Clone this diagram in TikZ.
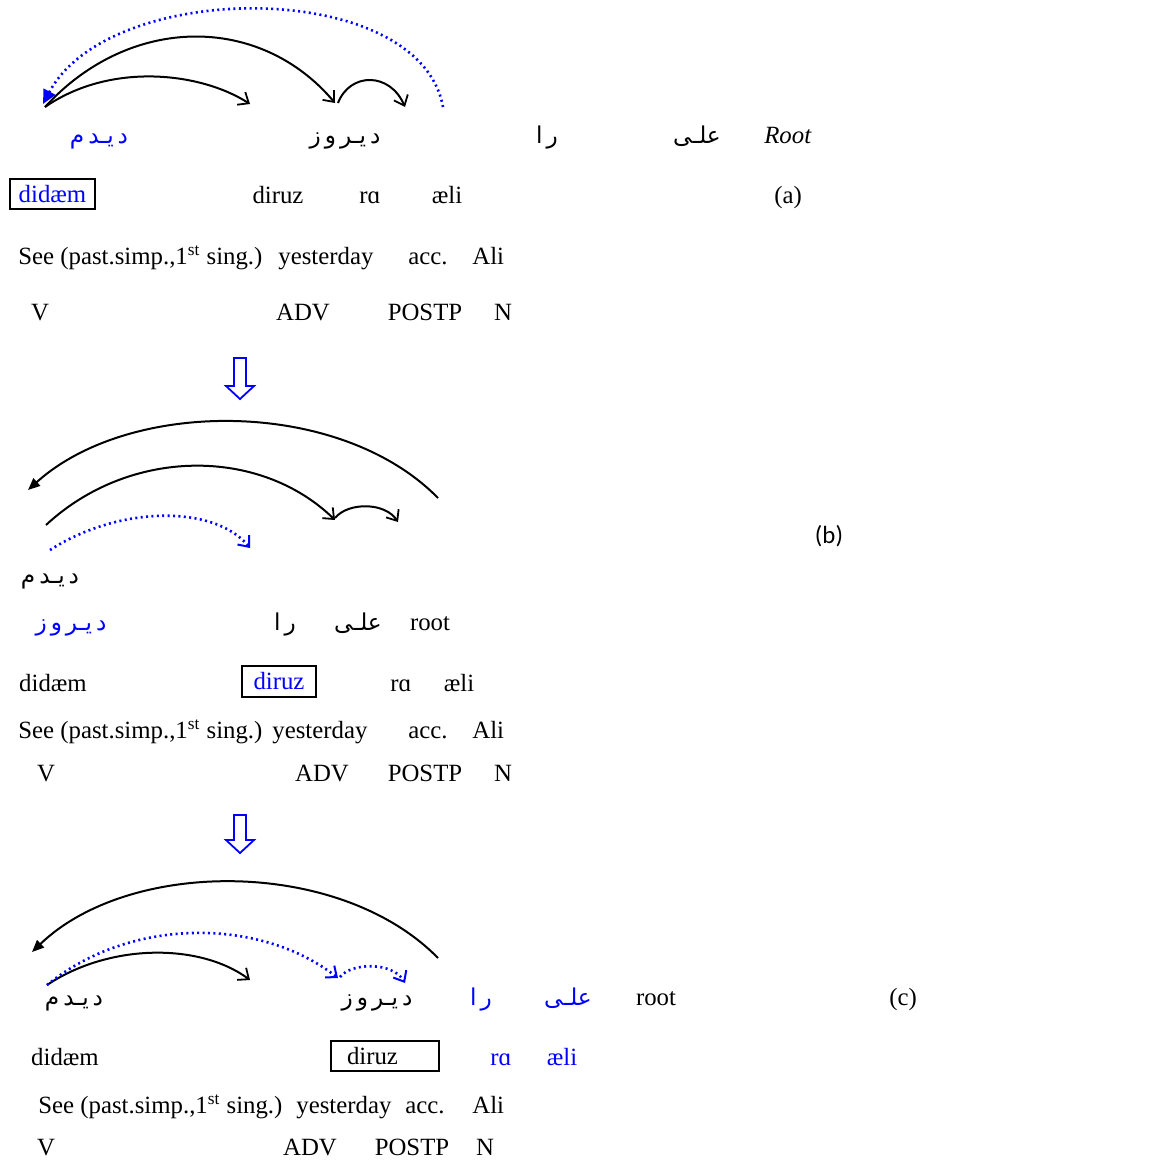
\documentclass[tikz,border=0pt]{standalone}
\usepackage{fontspec}
\setmainfont{Liberation Serif}
\newfontfamily\arabicfont[Script=Arabic]{DejaVu Sans}
\newfontfamily\calfont{Carlito}
\TeXXeTstate=1
\usetikzlibrary{arrows.meta}
\newcommand\arabw[1]{{\arabicfont\beginR #1\endR}}
\newcommand\gp{\kern2pt}
\tikzset{
  w/.style={anchor=base, font=\fontsize{12.4}{14}\selectfont, inner sep=0pt},
  wl/.style={w, anchor=base west},
  aw/.style={anchor=base, font=\fontsize{11.6}{13}\selectfont, inner sep=0pt},
  boxed/.style={draw, line width=0.7pt, inner sep=0pt},
  arc/.style={line width=1pt, -{Straight Barb[length=4.5pt,width=7.5pt,line width=0.9pt]}},
  backarc/.style={line width=1pt, -{Triangle[length=6pt,width=5pt]}},
  dotarc/.style={blue, line width=1.3pt, dash pattern=on 1pt off 1.7pt, -{Straight Barb[length=4.5pt,width=7.5pt,line width=1pt]}},
  dotback/.style={blue, line width=1.3pt, dash pattern=on 1pt off 1.7pt, -{Triangle[length=7pt,width=6.5pt]}},
  downarrow/.style={draw=blue, line width=0.9pt, fill=white, line join=miter},
}
\begin{document}
\begin{tikzpicture}[x=0.5pt,y=-0.5pt]
\useasboundingbox (0,0) rectangle (1171,1163);
% ================= (a) =================
\node[aw, text=blue] (a-didam-ar) at (99,143) {\arabw{د\gp يـد\gp م}};
\node[aw] (a-diruz-ar) at (345,143) {\arabw{د\gp يـر\gp و\gp ز}};
\node[aw] (a-ra-ar) at (547,143) {\arabw{ر\gp ا}};
\node[aw] (a-ali-ar) at (697,143) {\arabw{علـى}};
\node[w] (a-root) at (788,143) {\textit{Root}};
\node[w, boxed, text=blue, minimum width=42.5pt, minimum height=15pt, anchor=center] (a-didam) at (52.5,194) {didæm};
\node[w] (a-diruz) at (278,203) {diruz};
\node[w] (a-ra) at (370,203) {rɑ};
\node[w] (a-ali) at (447,203) {æli};
\node[w] (a-label) at (788,203) {(a)};
\node[wl] (a-see) at (18,264) {See (past.simp.,1\textsuperscript{st} sing.)};
\node[wl] (a-yest) at (278,264) {yesterday};
\node[wl] (a-acc) at (408,264) {acc.};
\node[wl] (a-aliG) at (472,264) {Ali};
\node[w] (a-V) at (40,320) {V};
\node[w] (a-ADV) at (303,320) {ADV};
\node[w] (a-POSTP) at (425,320) {POSTP};
\node[w] (a-N) at (503,320) {N};
\coordinate (a0) at (45,107);
\coordinate (a1) at (250,104);
\coordinate (a2) at (335,103);
\coordinate (a2b) at (338,103);
\coordinate (a3) at (405,107);
\coordinate (a4) at (443,107);
\coordinate (a5) at (43,104);
\draw[arc] (a0) .. controls (110,62) and (200,72) .. (a1);
\draw[arc] (a0) .. controls (130,14) and (260,14) .. (a2);
\draw[arc] (a2b) .. controls (350,72) and (390,72) .. (a3);
\draw[dotback] (a4) .. controls (420,-22) and (110,-22) .. (a5);
% down arrow 1
\draw[downarrow] (234,358) -- (246,358) -- (246,386) -- (254,386) -- (240,399) -- (226,386) -- (234,386) -- cycle;
% ================= (b) =================
\coordinate (b0) at (438,498);
\coordinate (b1) at (28,490);
\coordinate (b2) at (46,525);
\coordinate (b3) at (335,520);
\coordinate (b3b) at (335,518);
\coordinate (b4) at (398,522);
\coordinate (b5) at (50,550);
\coordinate (b6) at (250,548);
\draw[backarc] (b0) .. controls (340,398) and (130,398) .. (b1);
\draw[arc] (b2) .. controls (130,447) and (260,447) .. (b3);
\draw[arc] (b3b) .. controls (348,502) and (385,502) .. (b4);
\draw[dotarc] (b5) .. controls (120,505) and (215,505) .. (b6);
\node[font=\calfont\fontsize{12.4}{14}\selectfont, anchor=base, inner sep=0pt] (b-label) at (829,543) {(b)};
\node[aw] (b-didam-ar) at (50,583) {\arabw{د\gp يـد\gp م}};
\node[aw, text=blue] (b-diruz-ar) at (71,630) {\arabw{د\gp يـر\gp و\gp ز}};
\node[aw] (b-ra-ar) at (285,630) {\arabw{ر\gp ا}};
\node[aw] (b-ali-ar) at (358,630) {\arabw{علـى}};
\node[w] (b-root) at (430,630) {root};
\node[w] (b-didam) at (53,691) {didæm};
\node[w, boxed, text=blue, minimum width=37pt, minimum height=15.5pt, anchor=center] (b-diruz) at (279,681.5) {diruz};
\node[w] (b-ra) at (401,691) {rɑ};
\node[w] (b-ali) at (459,691) {æli};
\node[wl] (b-see) at (18,738) {See (past.simp.,1\textsuperscript{st} sing.)};
\node[wl] (b-yest) at (272,738) {yesterday};
\node[wl] (b-acc) at (408,738) {acc.};
\node[wl] (b-aliG) at (472,738) {Ali};
\node[w] (b-V) at (46,781) {V};
\node[w] (b-ADV) at (322,781) {ADV};
\node[w] (b-POSTP) at (425,781) {POSTP};
\node[w] (b-N) at (503,781) {N};
% down arrow 2
\draw[downarrow] (234,815) -- (246,815) -- (246,840) -- (254,840) -- (240,853) -- (226,840) -- (234,840) -- cycle;
% ================= (c) =================
\coordinate (c0) at (438,958);
\coordinate (c1) at (32,952);
\coordinate (c2) at (47,985);
\coordinate (c3) at (338,978);
\coordinate (c4) at (250,980);
\coordinate (c5) at (340,977);
\coordinate (c6) at (405,983);
\draw[backarc] (c0) .. controls (340,858) and (130,858) .. (c1);
\draw[arc] (c2) .. controls (110,943) and (200,943) .. (c4);
\draw[dotarc] (c2) .. controls (130,917) and (260,917) .. (c3);
\draw[dotarc] (c5) .. controls (352,962) and (393,962) .. (c6);
\node[aw] (c-didam-ar) at (74,1005) {\arabw{د\gp يـد\gp م}};
\node[aw] (c-diruz-ar) at (377,1005) {\arabw{د\gp يـر\gp و\gp ز}};
\node[aw, text=blue] (c-ra-ar) at (481,1005) {\arabw{ر\gp ا}};
\node[aw, text=blue] (c-ali-ar) at (568,1005) {\arabw{علـى}};
\node[w] (c-root) at (656,1005) {root};
\node[w] (c-label) at (903,1005) {(c)};
\node[w] (c-didam) at (65,1065) {didæm};
\node[w, boxed, text width=38pt, align=left, inner xsep=8pt, minimum height=15pt, anchor=center] (c-diruz) at (385,1056) {diruz};
\node[w, text=blue] (c-ra) at (501,1065) {rɑ};
\node[w, text=blue] (c-ali) at (562,1065) {æli};
\node[wl] (c-see) at (38,1113) {See (past.simp.,1\textsuperscript{st} sing.)};
\node[wl] (c-yest) at (296,1113) {yesterday};
\node[wl] (c-acc) at (405,1113) {acc.};
\node[wl] (c-aliG) at (472,1113) {Ali};
\node[w] (c-V) at (46,1155) {V};
\node[w] (c-ADV) at (310,1155) {ADV};
\node[w] (c-POSTP) at (412,1155) {POSTP};
\node[w] (c-N) at (485,1155) {N};
\end{tikzpicture}
\end{document}
